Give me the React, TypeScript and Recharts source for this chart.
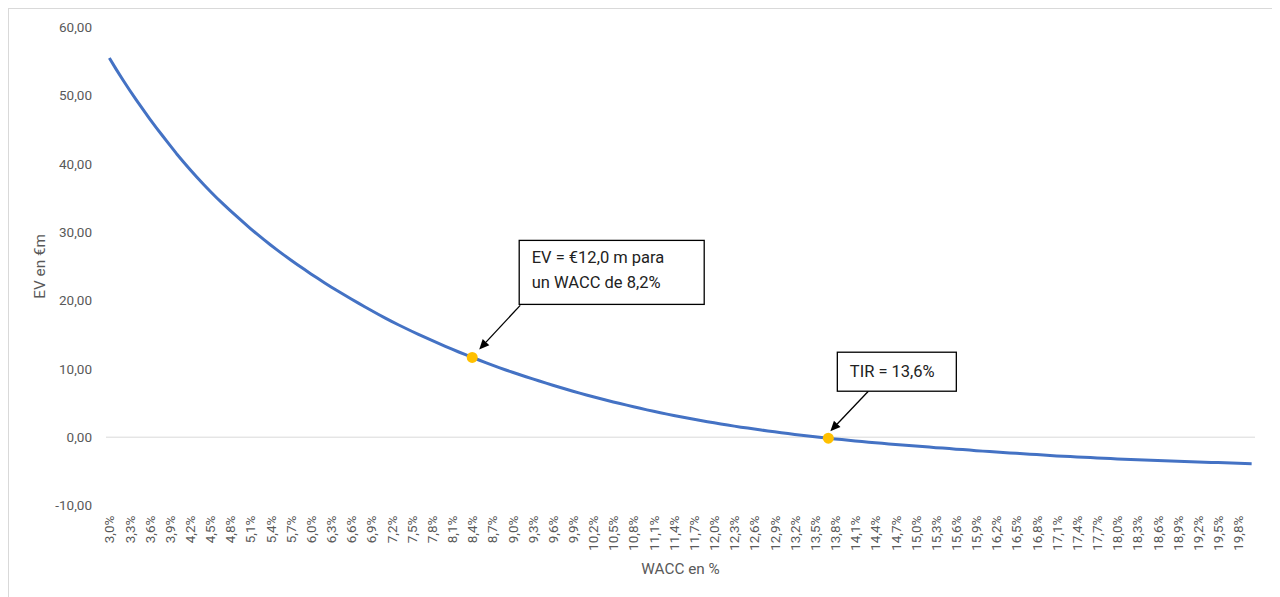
import React from 'react';
import { LineChart, Line, XAxis, YAxis, CartesianGrid, ReferenceDot, Label } from 'recharts';

// WACC categories (in %), one every 0.1 point
const waccPct = [
  3.0, 3.1, 3.2, 3.3, 3.4, 3.5, 3.6, 3.7, 3.8, 3.9,
  4.0, 4.1, 4.2, 4.3, 4.4, 4.5, 4.6, 4.7, 4.8, 4.9,
  5.0, 5.1, 5.2, 5.3, 5.4, 5.5, 5.6, 5.7, 5.8, 5.9,
  6.0, 6.1, 6.2, 6.3, 6.4, 6.5, 6.6, 6.7, 6.8, 6.9,
  7.0, 7.1, 7.2, 7.3, 7.4, 7.5, 7.6, 7.7, 7.8, 7.9,
  8.0, 8.1, 8.2, 8.3, 8.4, 8.5, 8.6, 8.7, 8.8, 8.9,
  9.0, 9.1, 9.2, 9.3, 9.4, 9.5, 9.6, 9.7, 9.8, 9.9,
  10.0, 10.1, 10.2, 10.3, 10.4, 10.5, 10.6, 10.7, 10.8, 10.9,
  11.0, 11.1, 11.2, 11.3, 11.4, 11.5, 11.6, 11.7, 11.8, 11.9,
  12.0, 12.1, 12.2, 12.3, 12.4, 12.5, 12.6, 12.7, 12.8, 12.9,
  13.0, 13.1, 13.2, 13.3, 13.4, 13.5, 13.6, 13.7, 13.8, 13.9,
  14.0, 14.1, 14.2, 14.3, 14.4, 14.5, 14.6, 14.7, 14.8, 14.9,
  15.0, 15.1, 15.2, 15.3, 15.4, 15.5, 15.6, 15.7, 15.8, 15.9,
  16.0, 16.1, 16.2, 16.3, 16.4, 16.5, 16.6, 16.7, 16.8, 16.9,
  17.0, 17.1, 17.2, 17.3, 17.4, 17.5, 17.6, 17.7, 17.8, 17.9,
  18.0, 18.1, 18.2, 18.3, 18.4, 18.5, 18.6, 18.7, 18.8, 18.9,
  19.0, 19.1, 19.2, 19.3, 19.4, 19.5, 19.6, 19.7, 19.8, 19.9,
  20.0,
];

// EV in €m
const evValues = [
  55.50, 53.88, 52.32, 50.82, 49.37, 47.97, 46.61, 45.29, 44.01, 42.75,
  41.50, 40.32, 39.18, 38.08, 37.02, 36.00, 35.02, 34.07, 33.16, 32.27,
  31.40, 30.54, 29.71, 28.91, 28.13, 27.38, 26.65, 25.94, 25.25, 24.57,
  23.90, 23.25, 22.62, 22.00, 21.40, 20.81, 20.23, 19.66, 19.10, 18.55,
  18.00, 17.47, 16.96, 16.46, 15.98, 15.51, 15.05, 14.60, 14.16, 13.73,
  13.30, 12.88, 12.47, 12.07, 11.68, 11.30, 10.92, 10.55, 10.19, 9.84,
  9.50, 9.17, 8.85, 8.53, 8.22, 7.91, 7.61, 7.31, 7.02, 6.73,
  6.45, 6.18, 5.92, 5.66, 5.41, 5.16, 4.92, 4.69, 4.46, 4.23,
  4.00, 3.79, 3.58, 3.38, 3.18, 2.99, 2.81, 2.63, 2.45, 2.27,
  2.10, 1.94, 1.78, 1.62, 1.47, 1.33, 1.19, 1.05, 0.91, 0.78,
  0.65, 0.53, 0.40, 0.29, 0.17, 0.06, -0.05, -0.15, -0.25, -0.35,
  -0.45, -0.55, -0.64, -0.73, -0.81, -0.90, -0.98, -1.06, -1.14, -1.22,
  -1.30, -1.38, -1.45, -1.53, -1.60, -1.67, -1.75, -1.82, -1.89, -1.97,
  -2.04, -2.11, -2.17, -2.24, -2.30, -2.36, -2.43, -2.49, -2.55, -2.62,
  -2.68, -2.74, -2.79, -2.84, -2.89, -2.94, -2.99, -3.04, -3.09, -3.13,
  -3.18, -3.22, -3.26, -3.30, -3.34, -3.37, -3.41, -3.45, -3.49, -3.52,
  -3.56, -3.59, -3.63, -3.66, -3.69, -3.72, -3.75, -3.78, -3.82, -3.85,
  -3.88,
];

const yTicks = [-10, 0, 10, 20, 30, 40, 50, 60];

// highlighted points and their callouts
const markerWacc = [8.4, 13.7];
const markerEv = [11.68, -0.15];
const calloutText = [['EV = €12,0 m para', 'un WACC de 8,2%'], ['TIR = 13,6%']];

const pct = (v: number) => `${v.toFixed(1).replace('.', ',')}%`;
const num = (v: number) => v.toFixed(2).replace('.', ',');

const data = waccPct.map((w, i) => ({ wacc: pct(w), ev: evValues[i] }));

const GREY = '#595959';

// box / arrow placement relative to the marker centre
const calloutLayout = [
  { box: { x: 47, y: -117, w: 185, h: 64 }, textY: [17, 42], from: { x: 48, y: -52 }, to: { x: 7, y: -8 } },
  { box: { x: 9, y: -86, w: 119, h: 39 }, textY: [19.5], from: { x: 40, y: -47 }, to: { x: 2, y: -7 } },
];

const Callout = ({ cx, cy, idx }: any) => {
  const c = calloutLayout[idx];
  const fx = cx + c.from.x;
  const fy = cy + c.from.y;
  const tx = cx + c.to.x;
  const ty = cy + c.to.y;
  const len = Math.hypot(tx - fx, ty - fy);
  const ux = (tx - fx) / len;
  const uy = (ty - fy) / len;
  const hl = 10;
  const hw = 4.5;
  const bx = tx - ux * hl;
  const by = ty - uy * hl;
  const head = `${tx},${ty} ${bx - uy * hw},${by + ux * hw} ${bx + uy * hw},${by - ux * hw}`;
  return (
    <g>
      <circle cx={cx} cy={cy} r={5.5} fill="#FFC000" />
      <line x1={fx} y1={fy} x2={bx} y2={by} stroke="#000" strokeWidth={1.3} />
      <polygon points={head} fill="#000" />
      <rect x={cx + c.box.x} y={cy + c.box.y} width={c.box.w} height={c.box.h} fill="#fff" stroke="#000" strokeWidth={1.3} />
      {calloutText[idx].map((t, j) => (
        <text key={j} x={cx + c.box.x + 12.5} y={cy + c.box.y + c.textY[j]} dominantBaseline="central" fontSize={16.5} fill="#222">
          {t}
        </text>
      ))}
    </g>
  );
};

const XTick = ({ x, y, payload }: any) => (
  <text transform={`translate(${x},${y + 2}) rotate(-90)`} textAnchor="end" dominantBaseline="central" fontSize={13.5} fill={GREY}>
    {payload.value}
  </text>
);

export default function App() {
  return (
    <div
      style={{
        width: 1268,
        height: 590,
        border: '1px solid #d9d9d9',
        boxSizing: 'border-box',
        fontFamily: 'Roboto, sans-serif',
        background: '#fff',
      }}
    >
      <LineChart width={1266} height={588} data={data} margin={{ top: 18.3, right: 20, bottom: 11.5, left: 7 }}>
        <CartesianGrid vertical={false} horizontalValues={[0]} stroke="#d9d9d9" />
        <XAxis
          dataKey="wacc"
          interval={2}
          axisLine={false}
          tickLine={false}
          height={80}
          padding={{ left: 3.36, right: 3.36 }}
          tick={XTick}
        >
          <Label value="WACC en %" position="insideBottom" offset={12} fill={GREY} fontSize={15.3} />
        </XAxis>
        <YAxis
          type="number"
          domain={[-10, 60]}
          ticks={yTicks}
          width={90}
          axisLine={false}
          tickLine={false}
          tickMargin={8}
          tickFormatter={num}
          tick={{ fill: GREY, fontSize: 13.5 }}
        >
          <Label value="EV en €m" angle={-90} position="insideLeft" offset={24} fill={GREY} fontSize={15.3} style={{ textAnchor: 'middle' }} />
        </YAxis>
        <Line
          type="linear"
          dataKey="ev"
          stroke="#4472C4"
          strokeWidth={3}
          strokeLinejoin="round"
          dot={false}
          activeDot={false}
          isAnimationActive={false}
        />
        {markerWacc.map((w, i) => (
          <ReferenceDot key={i} x={pct(w)} y={markerEv[i]} r={5.5} shape={(p: any) => <Callout {...p} idx={i} />} />
        ))}
      </LineChart>
    </div>
  );
}
